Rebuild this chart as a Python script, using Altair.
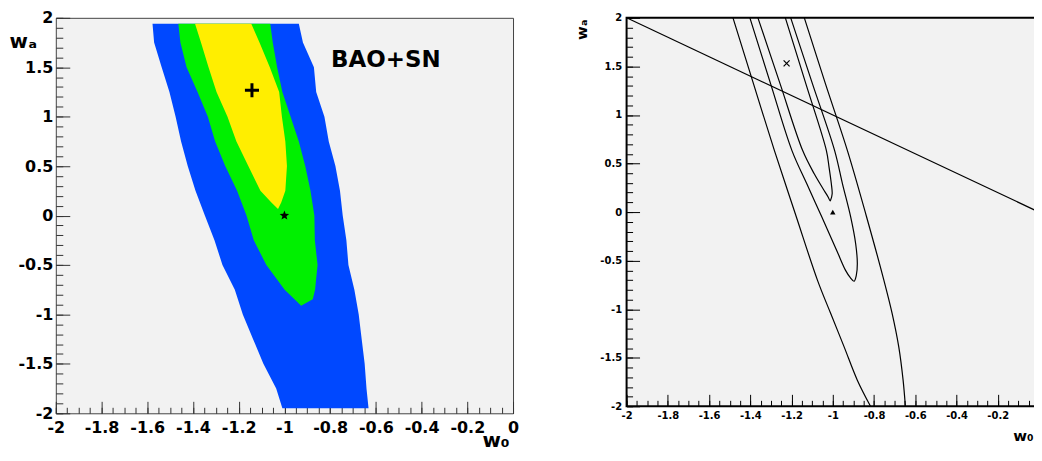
import math
import altair as alt
import pandas as pd

# ---------------- data: left panel (BAO+SN confidence regions) ----------------
blue_wa = [-1.95, -1.75, -1.5, -1.25, -1.0, -0.75, -0.5, -0.25, 0.0, 0.25, 0.5, 0.75, 1.0, 1.25, 1.5, 1.75, 1.94]
blue_left = [-1.009, -1.036, -1.092, -1.137, -1.182, -1.217, -1.271, -1.306, -1.348, -1.389, -1.423, -1.452, -1.476, -1.503, -1.537, -1.570, -1.577]
blue_right = [-0.632, -0.641, -0.649, -0.662, -0.675, -0.694, -0.720, -0.729, -0.745, -0.757, -0.777, -0.806, -0.825, -0.861, -0.871, -0.919, -0.937]

green_wa = [-0.912, -0.846, -0.75, -0.5, -0.25, 0.0, 0.25, 0.5, 0.75, 1.0, 1.25, 1.5, 1.75, 1.94]
green_left = [-0.927, -0.956, -0.999, -1.079, -1.134, -1.166, -1.207, -1.259, -1.303, -1.335, -1.380, -1.428, -1.455, -1.464]
green_right = [-0.927, -0.876, -0.866, -0.855, -0.867, -0.869, -0.886, -0.909, -0.937, -0.973, -1.009, -1.032, -1.051, -1.062]

yellow_wa = [0.066, 0.133, 0.25, 0.5, 0.75, 1.0, 1.25, 1.5, 1.75, 1.94]
yellow_left = [-1.028, -1.057, -1.105, -1.158, -1.210, -1.249, -1.297, -1.332, -1.365, -1.391]
yellow_right = [-1.028, -1.014, -0.996, -0.989, -0.996, -1.011, -1.023, -1.064, -1.109, -1.145]

best_fit_w0 = [-1.142]
best_fit_wa = [1.267]
lcdm_w0 = [-1.0]
lcdm_wa = [0.0]
panel_label = ["BAO+SN"]
panel_label_w0 = [-0.796]
panel_label_wa = [1.575]

# ---------------- data: right panel (contour lines) ----------------
outer_left_w0 = [-1.484, -1.384, -1.283, -1.179, -1.074, -1.010, -0.945, -0.881, -0.817]
outer_left_wa = [2.0, 1.317, 0.633, -0.035, -0.703, -1.045, -1.388, -1.731, -2.0]
outer_right_w0 = [-1.138, -1.035, -0.929, -0.838, -0.752, -0.712, -0.680, -0.659, -0.648]
outer_right_wa = [2.0, 1.317, 0.633, -0.035, -0.703, -1.045, -1.388, -1.731, -2.0]
middle_w0 = [-1.402, -1.301, -1.198, -1.126, -1.053, -0.981, -0.938, -0.915, -0.897,
             -0.886, -0.881, -0.889, -0.913, -0.953, -0.991, -1.098, -1.204]
middle_wa = [2.0, 1.317, 0.633, 0.291, -0.052, -0.395, -0.600, -0.675, -0.712,
             -0.652, -0.531, -0.326, -0.052, 0.291, 0.633, 1.317, 2.0]
inner_w0 = [-1.363, -1.255, -1.146, -1.090, -1.042, -1.022, -1.013, -1.010, -1.003,
            -1.007, -1.018, -1.031, -1.130, -1.230]
inner_wa = [2.0, 1.317, 0.633, 0.394, 0.222, 0.153, 0.115, 0.126, 0.188,
            0.291, 0.461, 0.633, 1.317, 2.0]
diag_w0 = [-2.0, 0.0]
diag_wa = [2.0, 0.0]
cross_w0 = [-1.224]
cross_wa = [1.531]
tri_w0 = [-1.0]
tri_wa = [0.0]

# ---------------- tick values ----------------
x_major = [-2, -1.8, -1.6, -1.4, -1.2, -1, -0.8, -0.6, -0.4, -0.2, 0]
x_minor = [round(-2 + 0.05 * i, 2) for i in range(41)]
y_major = [-2, -1.5, -1, -0.5, 0, 0.5, 1, 1.5, 2]
y_minor = [round(-2 + 0.1 * i, 1) for i in range(41)]

# ---------------- styling ----------------
FONT = "DejaVu Sans"
BLUE = "#0048FF"
GREEN = "#00F000"
YELLOW = "#FFEE00"
BG = "#F2F2F2"

XS = alt.Scale(domain=[-2, 0], nice=False, zero=False)
YS = alt.Scale(domain=[-2, 2], nice=False, zero=False)

PLUS = "M-1,0L1,0M0,-1L0,1"
XMARK = "M-1,-1L1,1M1,-1L-1,1"
star_pts = []
for k in range(10):
    r = 1.0 if k % 2 == 0 else 0.42
    a = -math.pi / 2 + k * math.pi / 5
    star_pts.append(f"{r * math.cos(a):.3f},{r * math.sin(a):.3f}")
STAR = "M" + "L".join(star_pts) + "Z"


def axis_layers(p):
    d = pd.DataFrame({"w0": [-1.0], "wa": [0.0]})
    base = alt.Chart(d).mark_point(opacity=0)
    lab = base.encode(
        x=alt.X("w0:Q", scale=XS, axis=alt.Axis(
            orient="bottom", values=x_major, ticks=False, domain=False, grid=False,
            labelExpr=p["xlabelexpr"], labelFont=FONT, labelFontWeight="bold",
            labelFontSize=p["lfs"], labelColor="black", labelPadding=p["xlp"],
            labelOverlap=False, labelFlush=False,
            title="w₀", titleFont=FONT, titleFontWeight="bold", titleFontSize=p["tfs"],
            titleColor="black", titleX=p["xtx"], titleY=p["xty"], titleAlign="right",
            titleBaseline="alphabetic", titleAngle=0)),
        y=alt.Y("wa:Q", scale=YS, axis=alt.Axis(
            orient="left", values=y_major, ticks=False, domain=False, grid=False,
            labelExpr="toString(datum.value)", labelFont=FONT, labelFontWeight="bold",
            labelFontSize=p["lfs"], labelColor="black", labelPadding=p["ylp"],
            labelOverlap=False, labelFlush=False,
            title="wₐ", titleFont=FONT, titleFontWeight="bold", titleFontSize=p["tfs"],
            titleColor="black", titleX=p["ytx"], titleY=p["yty"], titleAlign=p["yta"],
            titleBaseline="alphabetic", titleAngle=p["ytangle"])),
    )
    out = [lab]
    for vals_x, vals_y, lx, ly in [(x_major, y_major, p["xM"], p["yM"]),
                                   (x_minor, y_minor, p["xm"], p["ym"])]:
        out.append(base.encode(
            x=alt.X("w0:Q", scale=XS, axis=alt.Axis(
                orient="bottom", values=vals_x, offset=-lx, tickSize=lx, labels=False,
                domain=False, grid=False, title=None, tickColor=p["tc"], tickWidth=1)),
            y=alt.Y("wa:Q", scale=YS, axis=alt.Axis(
                orient="left", values=vals_y, offset=-ly, tickSize=ly, labels=False,
                domain=False, grid=False, title=None, tickColor=p["tc"], tickWidth=1)),
        ))
    return out


def band(wa, left, right, color):
    df = pd.DataFrame({"wa": wa, "w0_left": left, "w0_right": right})
    return alt.Chart(df).mark_area(orient="horizontal", color=color, interpolate="linear").encode(
        y=alt.Y("wa:Q", scale=YS, axis=None),
        x=alt.X("w0_left:Q", scale=XS, axis=None),
        x2="w0_right:Q",
    )


def points(w0, wa, **kw):
    df = pd.DataFrame({"w0": w0, "wa": wa})
    return alt.Chart(df).mark_point(**kw).encode(
        x=alt.X("w0:Q", scale=XS, axis=None), y=alt.Y("wa:Q", scale=YS, axis=None))


# ---------------- left panel ----------------
label_df = pd.DataFrame({"w0": panel_label_w0, "wa": panel_label_wa, "t": panel_label})
label_layer = alt.Chart(label_df).mark_text(
    align="left", baseline="middle", font=FONT, fontWeight="bold", fontSize=23, color="black"
).encode(x=alt.X("w0:Q", scale=XS, axis=None), y=alt.Y("wa:Q", scale=YS, axis=None), text="t:N")

left_params = dict(xlabelexpr="toString(datum.value)", lfs=16, tfs=20, xlp=6, ylp=3,
                   xtx=455, xty=33, ytx=-47, yty=30, yta="left", ytangle=0,
                   xM=12, yM=14, xm=6, ym=7, tc="#333333")

left = alt.layer(
    band(blue_wa, blue_left, blue_right, BLUE),
    band(green_wa, green_left, green_right, GREEN),
    band(yellow_wa, yellow_left, yellow_right, YELLOW),
    points(best_fit_w0, best_fit_wa, shape=PLUS, size=200, filled=False, color="black",
           strokeWidth=3, opacity=1),
    points(lcdm_w0, lcdm_wa, shape=STAR, size=100, filled=True, color="black", opacity=1),
    label_layer,
    *axis_layers(left_params),
).resolve_axis(x="independent", y="independent").properties(
    width=459, height=397,
    view=alt.ViewBackground(fill=BG, stroke="#444444", strokeWidth=1),
)

# ---------------- right panel ----------------
curves = []
for name, xs, ys in [("outer_left", outer_left_w0, outer_left_wa),
                     ("outer_right", outer_right_w0, outer_right_wa),
                     ("middle", middle_w0, middle_wa),
                     ("inner", inner_w0, inner_wa),
                     ("diag", diag_w0, diag_wa)]:
    for i, (a, b) in enumerate(zip(xs, ys)):
        curves.append({"curve": name, "idx": i, "w0": a, "wa": b})
curve_df = pd.DataFrame(curves)

lines = alt.Chart(curve_df).mark_line(color="black", strokeWidth=1.2, interpolate="catmull-rom").encode(
    x=alt.X("w0:Q", scale=XS, axis=None),
    y=alt.Y("wa:Q", scale=YS, axis=None),
    detail="curve:N",
    order="idx:Q",
)

right_params = dict(xlabelexpr="datum.value == 0 ? '' : toString(datum.value)", lfs=10, tfs=15,
                    xlp=4, ylp=5, xtx=408, xty=34, ytx=-40, yty=1, yta="right", ytangle=270,
                    xM=12, yM=13, xm=6, ym=6, tc="#000000")

right = alt.layer(
    lines,
    points(cross_w0, cross_wa, shape=XMARK, size=36, filled=False, color="black",
           strokeWidth=1.2, opacity=1),
    points(tri_w0, tri_wa, shape="triangle-up", size=30, filled=True, color="black", opacity=1),
    *axis_layers(right_params),
).resolve_axis(x="independent", y="independent").properties(
    width=414, height=390,
    view=alt.ViewBackground(fill=BG, stroke="#000000", strokeWidth=2),
)

# the right panel runs past the window edge, as in the original figure: trim it with padding
chart = alt.hconcat(left, right, spacing=114, bounds="flush").properties(
    padding={"left": 0, "top": 0, "bottom": 0, "right": -9}, background="white"
)

chart.save("out.html", embed_options={"renderer": "svg", "actions": False})
